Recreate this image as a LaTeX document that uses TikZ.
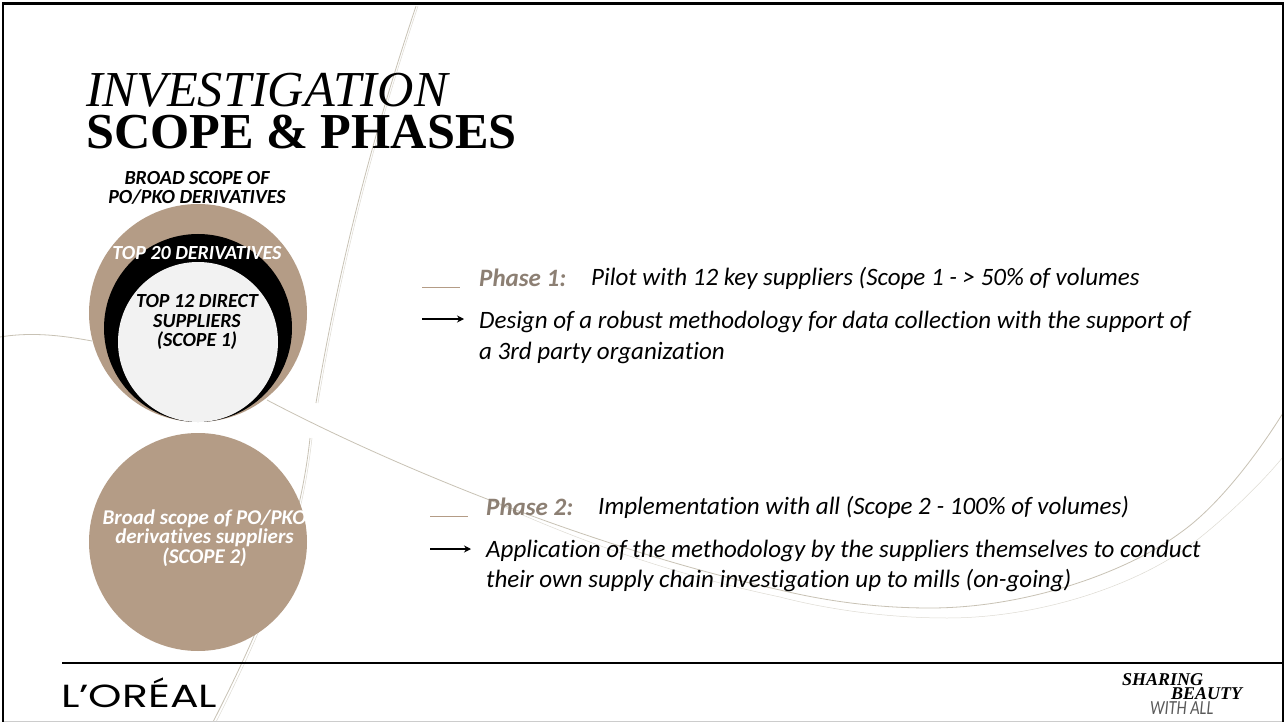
\documentclass[tikz,border=0pt]{standalone}
\usepackage{fontspec}
\setmainfont[Ligatures=NoCommon]{Carlito}
\newfontfamily\serifx{Liberation Serif}
\newfontfamily\logofont[FakeStretch=1.33]{Poppins}
\newfontfamily\withall[FakeStretch=0.81]{Carlito}
\definecolor{taupe}{HTML}{B49C86}
\definecolor{phase}{HTML}{8C7F73}
\definecolor{wave}{HTML}{C8C2B5}
\definecolor{wavelight}{HTML}{DEDBD3}
\definecolor{pale}{HTML}{F2F2F2}
\usetikzlibrary{arrows.meta}
\tikzset{
 px/.style={x=1pt,y=-1pt},
 disc/.style={circle,inner sep=0pt,minimum size=#1},
 curve/.style={draw=wave,line width=0.8pt},
 curvelight/.style={draw=wavelight,line width=0.5pt},
 ctext/.style={align=center,font=\fontsize{20}{19.6}\selectfont\bfseries\itshape,inner sep=0pt},
 body/.style={anchor=west,inner sep=0pt,font=\fontsize{25}{25}\selectfont\itshape},
 phasetxt/.style={anchor=west,inner sep=0pt,text=phase,font=\fontsize{25}{25}\selectfont\bfseries\itshape},
 lead/.style={draw=taupe,line width=0.8pt},
 pointer/.style={draw=black,line width=1.3pt,-{Stealth[length=7pt,width=7pt]}}
}
\begin{document}
\begin{tikzpicture}[px]
\useasboundingbox (0,0) rectangle (1285,722);
\fill[white] (0,0) rectangle (1285,722);
% background curves
\draw[curve] (416,6) .. controls (385,100) and (345,230) .. (316,403);
\draw[curvelight] (418,6) .. controls (387,100) and (347,230) .. (318,403);
\draw[curve] (310,438) .. controls (300,530) and (270,610) .. (213,722);
\draw[curvelight] (312,438) .. controls (302,530) and (272,612) .. (216,722);
\draw[curve] (0,337) .. controls (30,332) and (60,335) .. (92,341);
\draw[curve] (267,400) .. controls (400,470) and (600,550) .. (780,590)
  .. controls (830,602) and (880,608) .. (930,608)
  .. controls (1030,608) and (1130,570) .. (1180,533)
  .. controls (1220,505) and (1260,450) .. (1283,413);
\draw[curvelight] (500,505) .. controls (600,550) and (690,578) .. (780,597)
  .. controls (830,610) and (890,618) .. (947,618)
  .. controls (1040,618) and (1140,585) .. (1197,540)
  .. controls (1225,518) and (1260,485) .. (1283,457);
% frame
\draw[black,line width=2.5pt] (3,722) -- (3,3.5) -- (1283,3.5) -- (1283,722);
\draw[gray!40,line width=1pt] (4,721) -- (1282,721);
\node[disc=218pt,fill=taupe] (outer) at (198,313) {};
\node[disc=188pt,fill=black] (mid) at (198,328) {};
\node[disc=160pt,fill=pale] (inner) at (198,342) {};
\node[disc=218pt,fill=taupe] (lower) at (198,542) {};
\node[ctext] (broad) at (197,188) {BROAD SCOPE OF\\PO/PKO DERIVATIVES};
\node[ctext,text=white] (top20) at (197,253) {TOP 20 DERIVATIVES};
\node[ctext] (top12) at (197,322) {TOP 12 DIRECT\\SUPPLIERS\\(SCOPE 1)};
\node[ctext,text=white,font=\fontsize{21}{19.6}\selectfont\bfseries\itshape] (scope2) at (204.5,538) {Broad scope of PO/PKO\\derivatives suppliers\\(SCOPE 2)};
\node[anchor=west,inner sep=0pt,font=\fontsize{50.3}{50}\selectfont\serifx\itshape] (title1) at (86,90) {INVESTIGATION};
\node[anchor=west,inner sep=0pt,font=\fontsize{50.3}{50}\selectfont\serifx\bfseries] (title2) at (86,132) {SCOPE \& PHASES};
% phase 1
\coordinate (l1a) at (422,287); \coordinate (l1b) at (460,287);
\draw[lead] (l1a) -- (l1b);
\node[phasetxt] (p1) at (479,278) {Phase 1:};
\node[body] (p1t) at (591,278) {Pilot with 12 key suppliers (Scope 1 - > 50\% of volumes};
\coordinate (a1a) at (422,319); \coordinate (a1b) at (464,319);
\draw[pointer] (a1a) -- (a1b);
\node[body] (p1d) at (479,322) {Design of a robust methodology for data collection with the support of};
\node[body] (p1e) at (479,353) {a 3rd party organization};
% phase 2
\coordinate (l2a) at (430,516); \coordinate (l2b) at (468,516);
\draw[lead] (l2a) -- (l2b);
\node[phasetxt] (p2) at (486,507) {Phase 2:};
\node[body] (p2t) at (598,507) {Implementation with all (Scope 2 - 100\% of volumes)};
\coordinate (a2a) at (430,549); \coordinate (a2b) at (471,549);
\draw[pointer] (a2a) -- (a2b);
\node[body] (p2d) at (486,551) {Application of the methodology by the suppliers themselves to conduct};
\node[body] (p2e) at (486,581) {their own supply chain investigation up to mills (on-going)};
% footer
\coordinate (fa) at (62,663); \coordinate (fb) at (1283,663);
\draw[black,line width=1.6pt] (fa) -- (fb);
\node[anchor=west,inner sep=0pt,font=\fontsize{32}{32}\selectfont\logofont] (logo) at (61,693) {L’ORÉAL};
\node[anchor=west,inner sep=0pt,font=\fontsize{18}{18}\selectfont\serifx\bfseries\itshape] (sb1) at (1122,679.5) {SHARING};
\node[anchor=west,inner sep=0pt,font=\fontsize{18}{18}\selectfont\serifx\bfseries\itshape] (sb2) at (1171,693.5) {BEAUTY};
\node[anchor=west,inner sep=0pt,text=black!65,font=\fontsize{20}{20}\selectfont\withall\itshape] (sb3) at (1150,708) {WITH ALL};
\end{tikzpicture}
\end{document}
